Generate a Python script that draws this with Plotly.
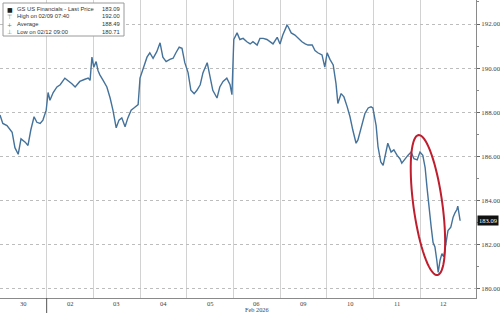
import math
import plotly.graph_objects as go

# ---------------- data ----------------
# time in trading-day units (0 = start of Jan 30 session, each session = 1)
t_day = [0.00, 0.06, 0.15, 0.26, 0.32, 0.39, 0.45, 0.54, 0.60, 0.66, 0.73, 0.79, 0.86, 0.92, 0.99,
         1.03, 1.07, 1.14, 1.22, 1.29, 1.39, 1.46, 1.54, 1.61, 1.71, 1.82, 1.89, 1.93, 1.97,
         2.01, 2.06, 2.10, 2.14, 2.21, 2.29, 2.36, 2.42, 2.49, 2.55, 2.61, 2.68, 2.74, 2.81, 2.87, 2.96,
         3.00, 3.06, 3.15, 3.21, 3.28, 3.36, 3.43, 3.49, 3.56, 3.64, 3.71, 3.77, 3.84, 3.90, 3.96,
         4.03, 4.09, 4.16, 4.22, 4.29, 4.35, 4.44, 4.50, 4.56, 4.65, 4.71, 4.78, 4.86, 4.93, 4.97,
         5.01, 5.08, 5.14, 5.21, 5.29, 5.36, 5.42, 5.51, 5.57, 5.64, 5.72, 5.79, 5.85, 5.94,
         6.00, 6.06, 6.15, 6.17, 6.24, 6.32, 6.39, 6.47, 6.54, 6.60, 6.69, 6.75, 6.81, 6.90, 6.96,
         7.01, 7.07, 7.14, 7.20, 7.24, 7.31, 7.37, 7.44, 7.50, 7.56, 7.63, 7.67, 7.74, 7.82, 7.89, 7.95, 7.99,
         8.06, 8.10, 8.16, 8.21, 8.25, 8.31, 8.38, 8.44, 8.51, 8.57, 8.61, 8.68, 8.74, 8.81, 8.87, 8.94,
         9.00, 9.06, 9.11, 9.15, 9.19, 9.24, 9.28, 9.32, 9.36, 9.39, 9.43, 9.47, 9.51, 9.56, 9.60,
         9.66, 9.71, 9.75, 9.79, 9.81, 9.86]
price = [187.88, 187.5, 187.4, 187.1, 186.4, 186.1, 186.8, 186.65, 186.5, 187.2, 187.8, 187.55, 187.5, 187.65, 188.1,
         188.9, 188.55, 188.9, 189.15, 189.25, 189.55, 189.45, 189.3, 189.15, 189.4, 189.5, 189.55, 189.45, 190.5,
         190.05, 190.3, 189.9, 189.7, 189.45, 189.15, 188.65, 188.1, 187.3, 187.65, 187.75, 187.35, 187.75, 188.1, 188.2, 188.35,
         189.55, 189.9, 190.5, 190.7, 190.45, 190.75, 191.15, 190.5, 190.3, 190.4, 190.45, 190.7, 190.95, 190.9, 190.25,
         189.8, 189.0, 188.85, 189.0, 189.25, 189.8, 190.25, 189.6, 189.0, 188.65, 189.15, 189.4, 189.55, 189.25, 188.8,
         191.3, 191.6, 191.3, 191.35, 191.2, 191.1, 191.2, 191.05, 191.35, 191.35, 191.3, 191.2, 191.1, 191.4,
         191.1, 191.5, 191.95, 191.9, 191.6, 191.5, 191.35, 191.2, 191.1, 191.05, 191.05, 190.8, 190.7, 190.6, 190.05,
         190.7, 190.4, 190.15, 189.3, 188.4, 188.85, 188.7, 188.25, 187.8, 187.2, 186.6, 186.75, 187.35, 187.95, 188.2, 188.25, 188.2,
         187.4, 186.45, 185.75, 185.6, 186.0, 186.6, 186.2, 186.3, 186.05, 185.9, 185.7, 185.9, 186.05, 186.2, 185.9, 185.85,
         186.2, 186.05, 185.5, 184.6, 183.7, 182.8, 182.1, 181.9, 181.3, 180.75, 181.3, 181.6, 181.45, 182.2, 182.65,
         182.8, 183.25, 183.45, 183.6, 183.75, 183.09]

day_labels = ["30", "02", "03", "04", "05", "06", "09", "10", "11", "12"]
month_label = "Feb 2026"
y_ticks = [180, 182, 184, 186, 188, 190, 192]

legend_rows = [
    ("■", "GS US Financials - Last Price", "183.09"),
    ("⊤", "High on 02/09 07:40", "192.00"),
    ("+", "Average", "188.49"),
    ("⊥", "Low on 02/12 09:00", "180.71"),
]
last_price = 183.09

# highlight ellipse (center in data units, size in pixels)
hl_center_t, hl_center_p = 9.17, 183.80
hl_half_len_px, hl_half_wid_px, hl_tilt_deg = 70.6, 14.5, 7.7

# ---------------- layout constants ----------------
W, H = 500, 313
ML, MR, MT, MB = 0, 24, 0, 15
X_RANGE = [0, 10.2]
Y_RANGE = [179.59, 193.09]
px_per_t = (W - ML - MR) / (X_RANGE[1] - X_RANGE[0])
px_per_p = (H - MT - MB) / (Y_RANGE[1] - Y_RANGE[0])

fig = go.Figure()
fig.add_trace(go.Scatter(x=t_day, y=price, mode="lines",
                         line=dict(color="#44729b", width=1.4), hoverinfo="skip"))

# ellipse path
th = math.radians(hl_tilt_deg)
ux, uy = math.sin(th), math.cos(th)      # major axis direction (pixel space, y down)
vx, vy = math.cos(th), -math.sin(th)
pts = []
for k in range(73):
    a = 2 * math.pi * k / 72
    dx = hl_half_len_px * math.cos(a) * ux + hl_half_wid_px * math.sin(a) * vx
    dy = hl_half_len_px * math.cos(a) * uy + hl_half_wid_px * math.sin(a) * vy
    pts.append((hl_center_t + dx / px_per_t, hl_center_p - dy / px_per_p))
path = "M " + " L ".join(f"{x:.4f},{y:.4f}" for x, y in pts) + " Z"
fig.add_shape(type="path", path=path, xref="x", yref="y",
              line=dict(color="#bf1e2e", width=2))

# month boundary long tick
fig.add_shape(type="line", xref="x", yref="paper", x0=1, x1=1, y0=0, y1=-MB / (H - MT - MB),
              line=dict(color="#555555", width=1))

# day labels
for i, lab in enumerate(day_labels):
    fig.add_annotation(x=i + 0.5, y=0, xref="x", yref="paper", text=lab, showarrow=False,
                       yanchor="top", yshift=0, font=dict(family="Liberation Serif", size=6.5, color="#444"))
fig.add_annotation(x=5.5, y=0, xref="x", yref="paper", text=month_label, showarrow=False,
                   yanchor="top", yshift=-6, font=dict(family="Liberation Serif", size=6.3, color="#444"))

# legend box
fig.add_shape(type="rect", xref="paper", yref="paper",
              x0=3 / (W - MR), x1=124 / (W - MR), y0=1 - 36 / (H - MB), y1=1 - 3 / (H - MB),
              line=dict(color="#9a9a9a", width=1), fillcolor="white")
row_y = [9, 16.5, 24, 31.5]
for (ic, name, val), ry in zip(legend_rows, row_y):
    yp = 1 - ry / (H - MB)
    fig.add_annotation(x=9.5 / (W - MR), y=yp, xref="paper", yref="paper", text=ic, showarrow=False,
                       xanchor="center", yanchor="middle",
                       font=dict(family="DejaVu Sans", size=6, color="#222" if ic == "■" else "#777"))
    fig.add_annotation(x=15 / (W - MR), y=yp, xref="paper", yref="paper", text=name, showarrow=False,
                       xanchor="left", yanchor="middle", font=dict(family="Liberation Sans", size=5.8, color="#333"))
    fig.add_annotation(x=122 / (W - MR), y=yp, xref="paper", yref="paper", text=val, showarrow=False,
                       xanchor="right", yanchor="middle", font=dict(family="Liberation Sans", size=5.8, color="#333"))

# last price tag
fig.add_annotation(x=1, y=last_price, xref="paper", yref="y", text=f"{last_price:.2f}", showarrow=False,
                   xanchor="left", yanchor="middle", xshift=1, bgcolor="#111", borderpad=1,
                   font=dict(family="Liberation Serif", size=6.5, color="white"))

fig.update_layout(
    width=W, height=H, margin=dict(l=ML, r=MR, t=MT, b=MB, pad=0),
    paper_bgcolor="white", plot_bgcolor="white", showlegend=False,
    xaxis=dict(range=X_RANGE, tickvals=list(range(1, 10)), showticklabels=False,
               showgrid=True, gridcolor="#d2d2d2", gridwidth=1, zeroline=False,
               showline=True, linecolor="#8a8a8a", linewidth=1, ticks=""),
    yaxis=dict(range=Y_RANGE, side="right", tickvals=y_ticks,
               ticktext=[f"{v:.2f}" for v in y_ticks],
               showgrid=True, gridcolor="#bdbdbd", griddash="dot", gridwidth=1, zeroline=False,
               showline=True, linecolor="#8a8a8a", linewidth=1,
               ticks="outside", ticklen=3, tickcolor="#666",
               minor=dict(dtick=1, tick0=180, ticks="outside", ticklen=2, tickcolor="#888", showgrid=False),
               tickfont=dict(family="Liberation Serif", size=6.8, color="#444")),
)

fig.write_html("out.html")
